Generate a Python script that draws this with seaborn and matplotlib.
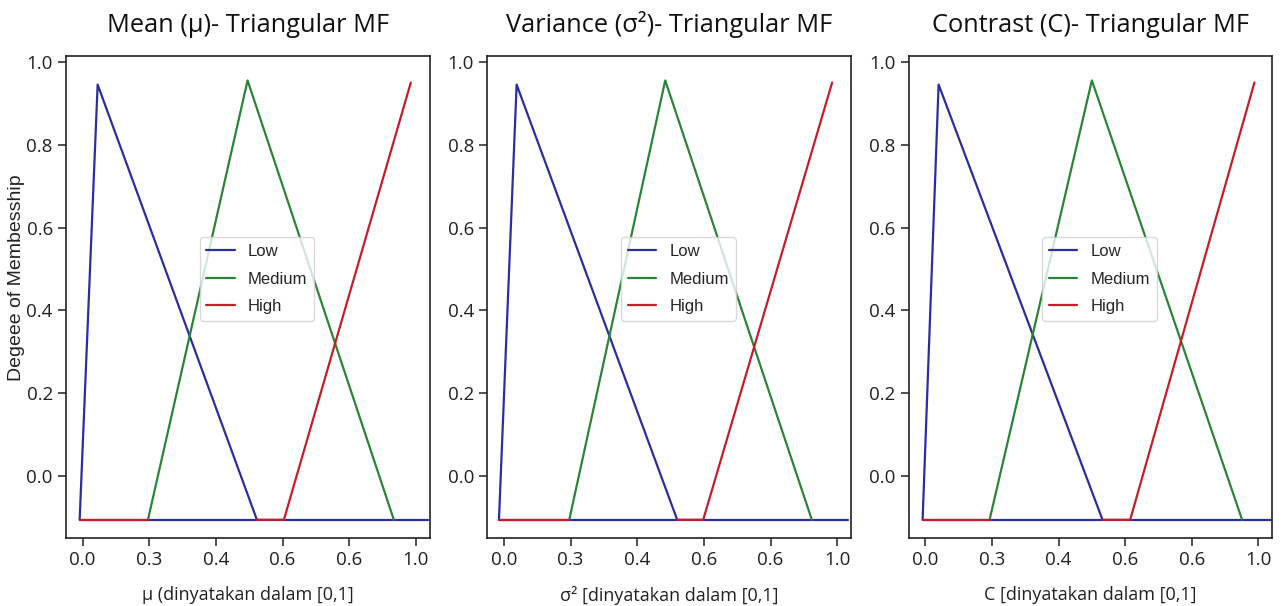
import numpy as np
import pandas as pd
import matplotlib
matplotlib.use("Agg")
import matplotlib.pyplot as plt
import seaborn as sns

# Panel texts
titles = ["Mean (μ)- Triangular MF", "Variance (σ²)- Triangular MF", "Contrast (C)- Triangular MF"]
xlabels = ["μ (dinyatakan dalam [0,1]", "σ² [dinyatakan dalam [0,1]", "C [dinyatakan dalam [0,1]"]
ylabel = "Degeee of Membesship"
mf_names = ["Low", "Medium", "High"]

# tick positions and the labels as printed on the chart
xtick_pos = [0.0, 0.2, 0.4, 0.6, 0.8, 1.0]
xtick_labels = ["0.0", "0.3", "0.4", "0.6", "0.6", "1.0"]
ytick_pos = [0.0, 0.2, 0.4, 0.6, 0.8, 1.0]

# membership values (base level and peaks)
BASE = -0.105
low_y = [BASE, 0.945, BASE]
med_y = [BASE, 0.955, BASE]
high_y = [BASE, BASE, 0.95]
flat_y = [BASE, BASE]

# breakpoints per panel
mu_low_x = [-0.009, 0.045, 0.523]
mu_med_x = [0.196, 0.495, 0.934]
mu_high_x = [0.523, 0.604, 0.985]
mu_base_x = [-0.009, 1.036]
mu_stub_x = [-0.009, 0.196]

var_low_x = [-0.015, 0.038, 0.520]
var_med_x = [0.196, 0.484, 0.924]
var_high_x = [0.520, 0.598, 0.985]
var_base_x = [-0.015, 1.032]
var_stub_x = [-0.015, 0.196]

con_low_x = [-0.008, 0.040, 0.532]
con_med_x = [0.193, 0.500, 0.951]
con_high_x = [0.532, 0.615, 0.988]
con_base_x = [-0.008, 1.040]
con_stub_x = [-0.008, 0.193]

panels = [
    (mu_low_x, mu_med_x, mu_high_x, mu_base_x, mu_stub_x),
    (var_low_x, var_med_x, var_high_x, var_base_x, var_stub_x),
    (con_low_x, con_med_x, con_high_x, con_base_x, con_stub_x),
]

colors = {"Low": "#2b2f9c", "Medium": "#2a8636", "High": "#c41e2a"}

sns.set_style("ticks")
plt.rcParams["font.family"] = ["Open Sans", "DejaVu Sans"]

fig, axes = plt.subplots(1, 3, figsize=(12.84, 6.06), dpi=100)
fig.subplots_adjust(left=0.0514, right=0.991, top=0.9076, bottom=0.1122, wspace=0.158)

for i, ax in enumerate(axes):
    low_x, med_x, high_x, base_x, stub_x = panels[i]
    lw = 1.6

    # blue base line under everything, then the three MFs
    sns.lineplot(x=base_x, y=flat_y, color=colors["Low"], lw=lw, sort=False, ax=ax)
    sns.lineplot(x=low_x, y=low_y, color=colors["Low"], lw=lw, sort=False, ax=ax, label="Low")
    sns.lineplot(x=med_x, y=med_y, color=colors["Medium"], lw=lw, sort=False, ax=ax, label="Medium")
    sns.lineplot(x=stub_x, y=flat_y, color=colors["High"], lw=lw, sort=False, ax=ax)
    sns.lineplot(x=high_x, y=high_y, color=colors["High"], lw=lw, sort=False, ax=ax, label="High")

    ax.set_xlim(-0.05, 1.042)
    ax.set_ylim(-0.149, 1.014)
    ax.set_xticks(xtick_pos)
    ax.set_xticklabels(xtick_labels)
    ax.set_yticks(ytick_pos)
    ax.set_yticklabels([f"{v:.1f}" for v in ytick_pos])
    ax.tick_params(labelsize=13.5, length=6, width=1.1, color="#222222", labelcolor="#222222")
    for sp in ax.spines.values():
        sp.set_linewidth(1.2)
        sp.set_color("#222222")

    ax.set_title(titles[i], fontsize=18.3, pad=17, color="#111111")
    ax.set_xlabel(xlabels[i], fontsize=13, labelpad=12, color="#222222")
    if i == 0:
        ax.set_ylabel(ylabel, fontsize=14, family=["Liberation Sans", "DejaVu Sans"],
                      color="#222222")
        ax.yaxis.set_label_coords(-0.112, 0.54)
    else:
        ax.set_ylabel("")

    leg = ax.legend(loc="center", bbox_to_anchor=(0.525, 0.537),
                    prop={"family": ["Liberation Sans"], "size": 12},
                    handlelength=1.7, labelspacing=0.75, frameon=True, fancybox=True)
    leg.get_frame().set_edgecolor("#d0d0d0")

fig.savefig("out.png", dpi=100)
